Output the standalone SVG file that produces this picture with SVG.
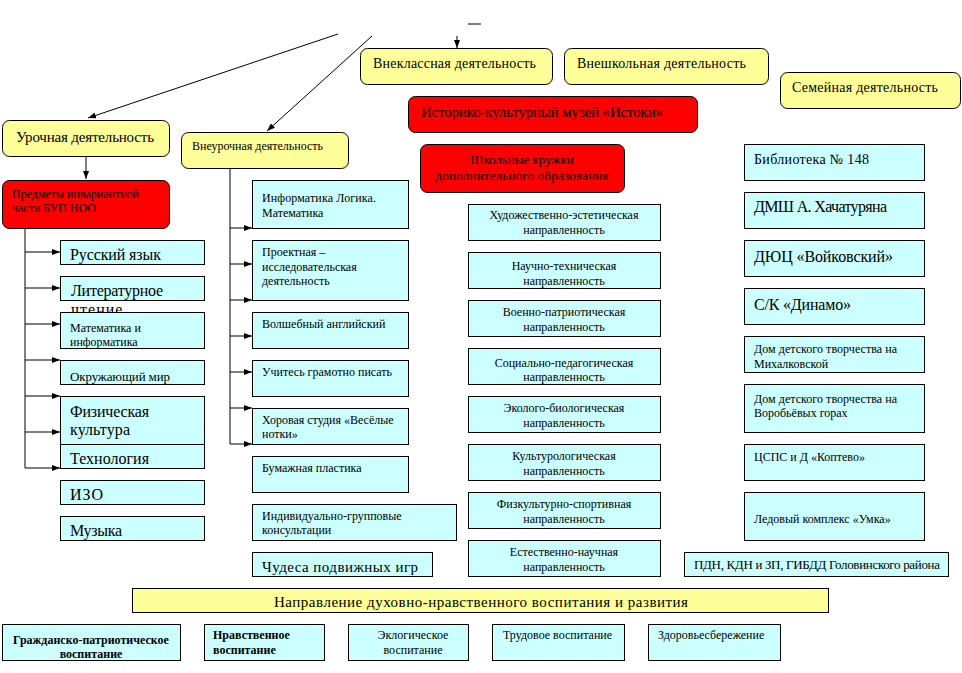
<svg xmlns="http://www.w3.org/2000/svg" width="962" height="673" viewBox="0 0 962 673">
<style>
text{font-family:"Liberation Serif","Times New Roman",serif;fill:#000;font-size:12px}
.y{fill:#FFFF99;stroke:#000;stroke-width:1}
.r{fill:#FF0000;stroke:#000;stroke-width:1}
.c{fill:#CCFFFF;stroke:#000;stroke-width:1}
.m{text-anchor:middle}
.b{font-weight:bold}
.big{font-size:16px;letter-spacing:1px}
.mid{font-size:14px}
.conn line{stroke:#000;stroke-width:1}
</style>
<defs>
<marker id="ah" viewBox="0 0 8 6" refX="8" refY="3" markerWidth="8" markerHeight="6" orient="auto" markerUnits="userSpaceOnUse"><path d="M0,0 L8,3 L0,6 z" fill="#000"/></marker>
</defs>
<rect width="962" height="673" fill="#fff"/>

<g id="connectors" class="conn">
<line x1="468" y1="24" x2="481" y2="24"/>
<line x1="338" y1="34" x2="88" y2="118" marker-end="url(#ah)"/>
<line x1="372" y1="36" x2="267" y2="131" marker-end="url(#ah)"/>
<line x1="457" y1="36" x2="457" y2="48" marker-end="url(#ah)"/>
<line x1="86" y1="156" x2="86" y2="179" marker-end="url(#ah)"/>
<line x1="25" y1="228" x2="25" y2="468"/>
<line x1="25" y1="252" x2="60" y2="252" marker-end="url(#ah)"/>
<line x1="25" y1="288" x2="60" y2="288" marker-end="url(#ah)"/>
<line x1="25" y1="324" x2="60" y2="324" marker-end="url(#ah)"/>
<line x1="25" y1="360" x2="60" y2="360" marker-end="url(#ah)"/>
<line x1="25" y1="396" x2="60" y2="396" marker-end="url(#ah)"/>
<line x1="25" y1="432" x2="60" y2="432" marker-end="url(#ah)"/>
<line x1="25" y1="468" x2="60" y2="468" marker-end="url(#ah)"/>
<line x1="230" y1="168" x2="230" y2="444"/>
<line x1="230" y1="228" x2="252" y2="228" marker-end="url(#ah)"/>
<line x1="230" y1="264" x2="252" y2="264" marker-end="url(#ah)"/>
<line x1="230" y1="300" x2="252" y2="300" marker-end="url(#ah)"/>
<line x1="230" y1="336" x2="252" y2="336" marker-end="url(#ah)"/>
<line x1="230" y1="372" x2="252" y2="372" marker-end="url(#ah)"/>
<line x1="230" y1="408" x2="252" y2="408" marker-end="url(#ah)"/>
<line x1="230" y1="444" x2="252" y2="444" marker-end="url(#ah)"/>
</g>

<!-- top row -->
<g id="n-vneklass"><rect class="y" x="360.5" y="48.5" width="192" height="36" rx="7"/><text x="373" y="68" style="font-size:14px" textLength="163">Внеклассная деятельность</text></g>
<g id="n-vneshkol"><rect class="y" x="564.5" y="48.5" width="204" height="36" rx="7"/><text x="577" y="68" style="font-size:14px" textLength="169">Внешкольная деятельность</text></g>
<g id="n-semya"><rect class="y" x="780.5" y="72.5" width="180" height="36" rx="7"/><text x="792" y="92" style="font-size:14px" textLength="146">Семейная деятельность</text></g>
<g id="n-muzei"><rect class="r" x="408.5" y="96.5" width="289" height="36" rx="7"/><text x="421" y="117" style="font-size:15px" textLength="242">Историко-культурный музей «Истоки»</text></g>
<g id="n-kruzhki"><rect class="r" x="420.5" y="144.5" width="204" height="48" rx="7"/><text class="m" x="522" y="164" style="font-size:13px">Школьные кружки</text><text class="m" x="522" y="180" style="font-size:13px" textLength="173">дополнительного образования</text></g>

<g id="n-urochnaya"><rect class="y" x="2.5" y="120.5" width="167" height="36" rx="7"/><text x="16" y="142" style="font-size:15px" textLength="138">Урочная деятельность</text></g>
<g id="n-vneurochnaya"><rect class="y" x="181.5" y="132.5" width="167" height="36" rx="7"/><text x="192" y="150" textLength="131">Внеурочная деятельность</text></g>
<g id="n-predmety"><rect class="r" x="2.5" y="180.5" width="167" height="48" rx="7"/><text x="12" y="198" textLength="127">Предметы инвариантной</text><text x="12" y="212">части БУП НОО</text></g>

<!-- left column -->
<g id="n-russkiy"><rect class="c" x="60.5" y="240.5" width="144" height="24"/><text class="big" x="70" y="260" textLength="92">Русский язык</text></g>
<g id="n-literat"><rect class="c" x="60.5" y="276.5" width="144" height="24"/><text class="big" x="71" y="296" textLength="93">Литературное</text><text class="big" x="71" y="315">чтение</text></g>
<g id="n-matem"><rect class="c" x="60.5" y="312.5" width="144" height="36"/><text x="70" y="332">Математика и</text><text x="70" y="346">информатика</text></g>
<g id="n-okruzh"><rect class="c" x="60.5" y="360.5" width="144" height="24"/><text x="70" y="381" style="font-size:13px" textLength="100">Окружающий мир</text></g>
<g id="n-fizkult"><rect class="c" x="60.5" y="396.5" width="144" height="48"/><text class="big" x="70" y="417" textLength="80">Физическая</text><text class="big" x="70" y="435" textLength="61">культура</text></g>
<g id="n-tehnol"><rect class="c" x="60.5" y="444.5" width="144" height="24"/><text class="big" x="70" y="464" textLength="80">Технология</text></g>
<g id="n-izo"><rect class="c" x="60.5" y="480.5" width="144" height="24"/><text class="big" x="70" y="500">ИЗО</text></g>
<g id="n-muzyka"><rect class="c" x="60.5" y="516.5" width="144" height="24"/><text class="big" x="70" y="536" textLength="53">Музыка</text></g>

<!-- middle-left column -->
<g id="n-inform"><rect class="c" x="252.5" y="180.5" width="156" height="48"/><text x="262" y="202" textLength="114">Информатика Логика.</text><text x="262" y="217">Математика</text></g>
<g id="n-proekt"><rect class="c" x="252.5" y="240.5" width="156" height="60"/><text x="262" y="256">Проектная –</text><text x="262" y="271">исследовательская</text><text x="262" y="285">деятельность</text></g>
<g id="n-volsheb"><rect class="c" x="252.5" y="312.5" width="156" height="36"/><text x="262" y="328">Волшебный английский</text></g>
<g id="n-uchites"><rect class="c" x="252.5" y="360.5" width="156" height="36"/><text x="262" y="376">Учитесь грамотно писать</text></g>
<g id="n-horovaya"><rect class="c" x="252.5" y="408.5" width="156" height="36"/><text x="262" y="424">Хоровая студия «Весёлые</text><text x="262" y="438">нотки»</text></g>
<g id="n-bumazh"><rect class="c" x="252.5" y="456.5" width="156" height="36"/><text x="262" y="472">Бумажная пластика</text></g>
<g id="n-individ"><rect class="c" x="252.5" y="504.5" width="204" height="36"/><text x="262" y="520">Индивидуально-групповые</text><text x="262" y="534">консультации</text></g>
<g id="n-chudesa"><rect class="c" x="252.5" y="552.5" width="180" height="24"/><text x="262" y="572" style="font-size:15px" textLength="156">Чудеса подвижных игр</text></g>

<!-- middle column -->
<g id="n-hud"><rect class="c" x="468.5" y="204.5" width="192" height="36"/><text class="m" x="564" y="219">Художественно-эстетическая</text><text class="m" x="564" y="234">направленность</text></g>
<g id="n-nauch"><rect class="c" x="468.5" y="252.5" width="192" height="36"/><text class="m" x="564" y="270">Научно-техническая</text><text class="m" x="564" y="285">направленность</text></g>
<g id="n-voen"><rect class="c" x="468.5" y="300.5" width="192" height="36"/><text class="m" x="564" y="316">Военно-патриотическая</text><text class="m" x="564" y="331">направленность</text></g>
<g id="n-soc"><rect class="c" x="468.5" y="348.5" width="192" height="36"/><text class="m" x="564" y="367">Социально-педагогическая</text><text class="m" x="564" y="381">направленность</text></g>
<g id="n-ekol"><rect class="c" x="468.5" y="396.5" width="192" height="36"/><text class="m" x="564" y="412">Эколого-биологическая</text><text class="m" x="564" y="427">направленность</text></g>
<g id="n-kult"><rect class="c" x="468.5" y="444.5" width="192" height="36"/><text class="m" x="564" y="460">Культурологическая</text><text class="m" x="564" y="475">направленность</text></g>
<g id="n-fizk"><rect class="c" x="468.5" y="492.5" width="192" height="36"/><text class="m" x="564" y="508">Физкультурно-спортивная</text><text class="m" x="564" y="523">направленность</text></g>
<g id="n-estest"><rect class="c" x="468.5" y="540.5" width="192" height="36"/><text class="m" x="564" y="556">Естественно-научная</text><text class="m" x="564" y="571">направленность</text></g>

<!-- right column -->
<g id="n-biblio"><rect class="c" x="744.5" y="144.5" width="180" height="36"/><text x="754" y="164" style="font-size:14px" textLength="115">Библиотека № 148</text></g>
<g id="n-dmsh"><rect class="c" x="744.5" y="192.5" width="180" height="36"/><text x="754" y="212" style="font-size:16px" textLength="133">ДМШ А. Хачатуряна</text></g>
<g id="n-duc"><rect class="c" x="744.5" y="240.5" width="180" height="36"/><text x="754" y="262" style="font-size:16px" textLength="139">ДЮЦ «Войковский»</text></g>
<g id="n-sk"><rect class="c" x="744.5" y="288.5" width="180" height="36"/><text x="754" y="310" style="font-size:16px" textLength="97">С/К «Динамо»</text></g>
<g id="n-ddt1"><rect class="c" x="744.5" y="336.5" width="180" height="36"/><text x="754" y="353" textLength="143">Дом детского творчества на</text><text x="754" y="368">Михалковской</text></g>
<g id="n-ddt2"><rect class="c" x="744.5" y="384.5" width="180" height="48"/><text x="754" y="403" textLength="143">Дом детского творчества на</text><text x="754" y="417">Воробьёвых горах</text></g>
<g id="n-csps"><rect class="c" x="744.5" y="444.5" width="180" height="36"/><text x="754" y="461">ЦСПС и Д «Коптево»</text></g>
<g id="n-ledovy"><rect class="c" x="744.5" y="492.5" width="180" height="48"/><text x="754" y="523">Ледовый комплекс «Умка»</text></g>
<g id="n-pdn"><rect class="c" x="684.5" y="552.5" width="264" height="24"/><text x="694" y="569" style="font-size:13px" textLength="246">ПДН, КДН и ЗП, ГИБДД Головинского района</text></g>

<!-- bottom -->
<g id="n-napravl"><rect class="y" x="132.5" y="588.5" width="696" height="24"/><text x="274" y="607" style="font-size:15px" textLength="414">Направление духовно-нравственного воспитания и развития</text></g>
<g id="n-grazhd"><rect class="c" x="2.5" y="624.5" width="178" height="36"/><text class="m b" x="91" y="644">Гражданско-патриотическое</text><text class="m b" x="91" y="658">воспитание</text></g>
<g id="n-nravst"><rect class="c" x="204.5" y="624.5" width="120" height="36"/><text class="b" x="213" y="639">Нравственное</text><text class="b" x="213" y="654">воспитание</text></g>
<g id="n-eklog"><rect class="c" x="348.5" y="624.5" width="120" height="36"/><text class="m" x="413" y="639">Эклогическое</text><text class="m" x="413" y="654">воспитание</text></g>
<g id="n-trud"><rect class="c" x="492.5" y="624.5" width="132" height="36"/><text x="503" y="639">Трудовое воспитание</text></g>
<g id="n-zdorov"><rect class="c" x="648.5" y="624.5" width="132" height="36"/><text x="658" y="639">Здоровьесбережение</text></g>
</svg>
